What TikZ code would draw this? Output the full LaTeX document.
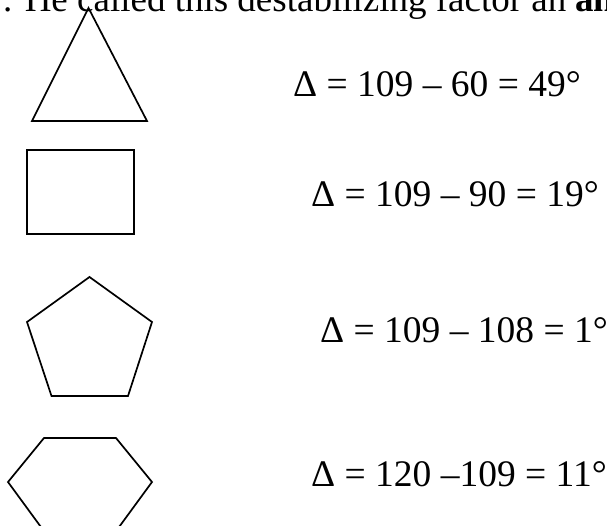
\documentclass[tikz,border=0pt]{standalone}
\usepackage{fontspec}
\setmainfont{Liberation Serif}
\tikzset{
  polyline/.style={draw=black, line width=1.7pt, line join=miter},
  eq/.style={anchor=base west, inner sep=0pt, font=\fontsize{37.5}{40}\selectfont},
  caption/.style={anchor=base west, inner sep=0pt, font=\fontsize{37}{40}\selectfont}
}
\begin{document}
\begin{tikzpicture}[x=1pt,y=-1pt]
\clip (0,0) rectangle (607,526);
\fill[white] (0,0) rectangle (607,526);
\node[caption] (top) at (3,12) {. He called this destabilizing factor an \textbf{an}};
% triangle
\draw[polyline] (88.5,8) -- (147,121) -- (32,121) -- cycle;
% square
\draw[polyline] (27,150) rectangle (134,234);
% pentagon
\draw[polyline] (89.5,277) -- (152,322) -- (128,396) -- (51.5,396) -- (27,322) -- cycle;
% hexagon
\draw[polyline] (44,438) -- (116,438) -- (152,482) -- (117.6,529) -- (42.4,529) -- (8,482) -- cycle;
\node[eq] (e1) at (293,97) {Δ = 109 – 60 = 49°};
\node[eq] (e2) at (311,207) {Δ = 109 – 90 = 19°};
\node[eq] (e3) at (320,342) {Δ = 109 – 108 = 1°};
\node[eq] (e4) at (311,486) {Δ = 120 –109 = 11°};
\end{tikzpicture}
\end{document}
